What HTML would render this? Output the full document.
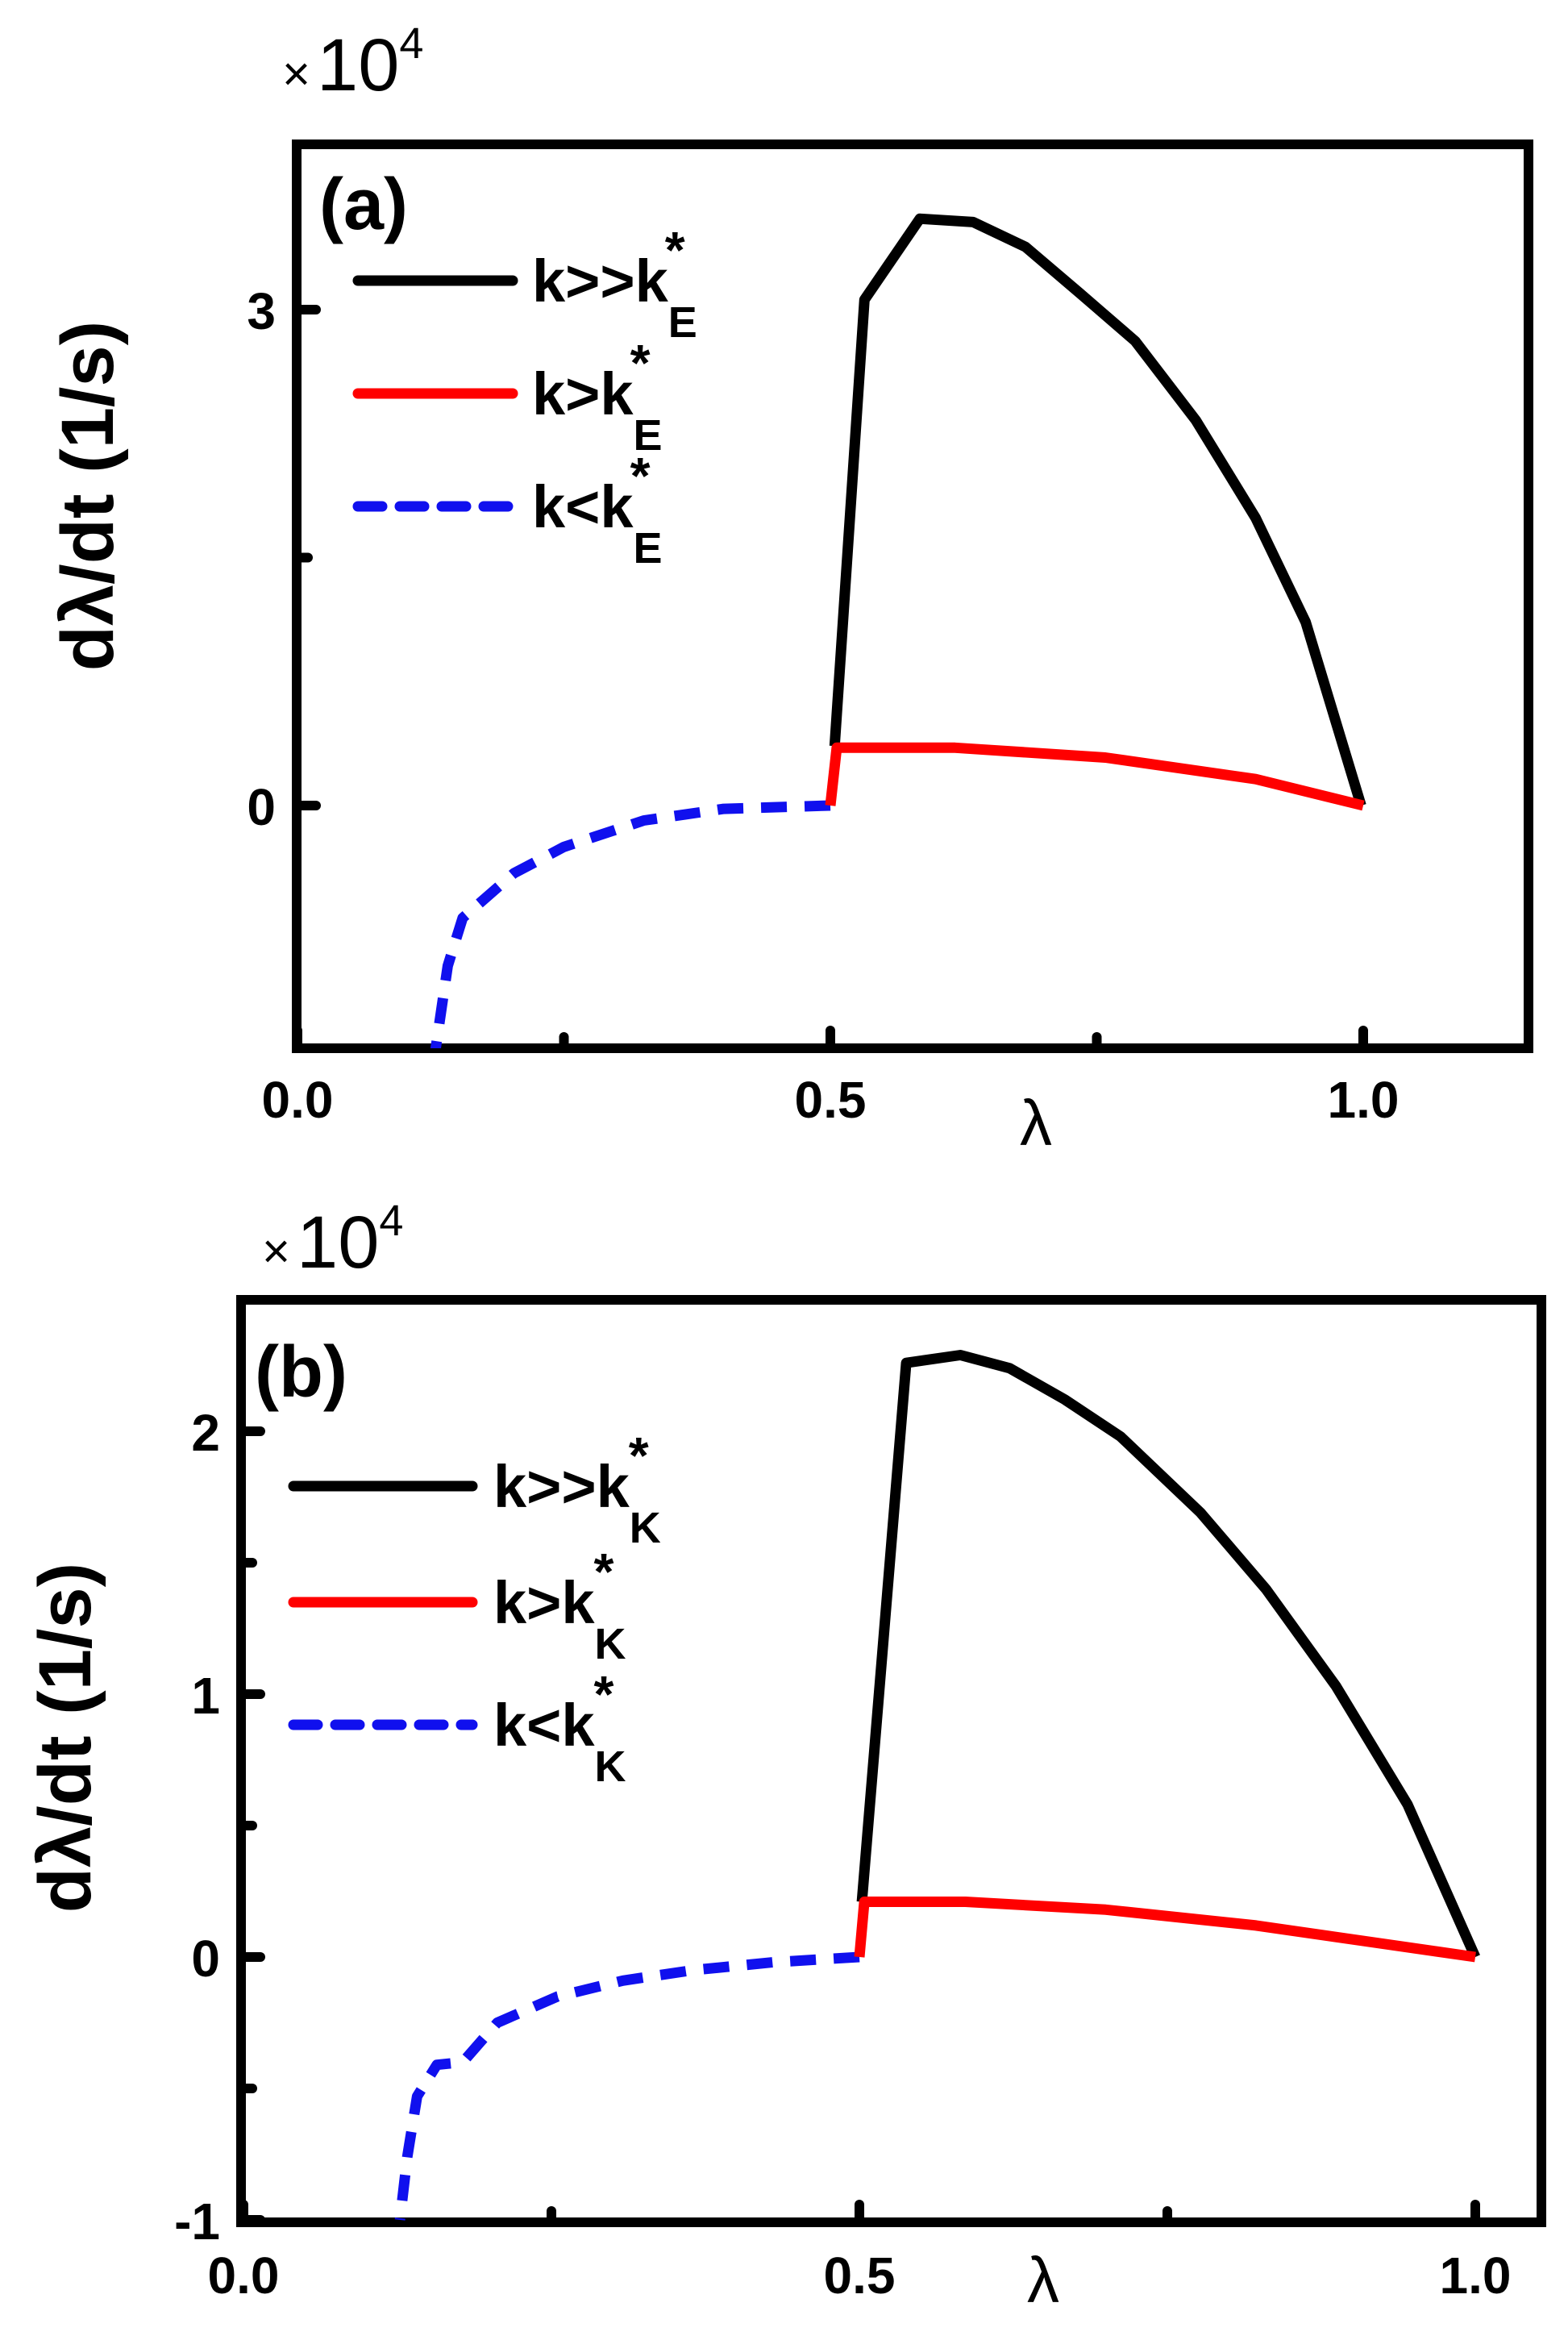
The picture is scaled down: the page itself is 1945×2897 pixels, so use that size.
<!DOCTYPE html>
<html><head><meta charset="utf-8"><style>
html,body{margin:0;padding:0;background:#fff;}
svg{display:block;}
text{font-family:"Liberation Sans",sans-serif;}
</style></head><body>
<svg id="chart" width="1945" height="2897" viewBox="0 0 1945 2897" xmlns="http://www.w3.org/2000/svg"></svg>
<script>
// Panel (a) data
const aBlackX = [0.504,0.532,0.584,0.634,0.683,0.734,0.786,0.843,0.899,0.946,0.998];
const aBlackY = [0.36,3.06,3.55,3.53,3.38,3.10,2.81,2.33,1.74,1.11,0];
const aRedX = [0.5,0.506,0.617,0.758,0.899,1.0];
const aRedY = [0,0.35,0.35,0.29,0.16,0];
const aBlueX = [0.5,0.40,0.325,0.25,0.203,0.155,0.141,0.129];
const aBlueY = [0,-0.02,-0.09,-0.25,-0.41,-0.68,-0.97,-1.5];
const aYTicks = [0,3];
const aYMinor = [1.5];
// Panel (b) data
const bBlackX = [0.502,0.538,0.582,0.622,0.667,0.712,0.777,0.830,0.887,0.945,1.0];
const bBlackY = [0.21,2.26,2.29,2.24,2.12,1.98,1.69,1.40,1.03,0.58,0];
const bRedX = [0.5,0.504,0.586,0.70,0.822,1.0];
const bRedY = [0,0.21,0.21,0.18,0.12,0];
const bBlueX = [0.5,0.43,0.365,0.308,0.255,0.206,0.178,0.157,0.141,0.133,0.127];
const bBlueY = [0,-0.02,-0.05,-0.09,-0.15,-0.25,-0.40,-0.41,-0.53,-0.76,-1.0];
const bYTicks = [-1,0,1,2];
const bYMinor = [-0.5,0.5,1.5];
const xTicks = [0.0,0.5,1.0];
const xTickLabels = ["0.0","0.5","1.0"];
const xMinor = [0.25,0.75];

const NS="http://www.w3.org/2000/svg";
const svg=document.getElementById('chart');
function mk(tag,attrs,parent){const e=document.createElementNS(NS,tag);for(const k in attrs)e.setAttribute(k,attrs[k]);(parent||svg).appendChild(e);return e;}

function panel(cfg){
  const g=mk('g',{});
  
  
  const sx=v=>cfg.x0+(v-0)*(cfg.x1-cfg.x0);
  const sy=v=>cfg.y0-(v)*cfg.yu;
  const fr=mk('rect',{x:cfg.L,y:cfg.T,width:cfg.R-cfg.L,height:cfg.B-cfg.T,fill:'none',stroke:'#000','stroke-width':12},g);
  
  
  const cp=mk('clipPath',{id:'clip'+cfg.tag},g);
  mk('rect',{x:cfg.L,y:cfg.T,width:cfg.R-cfg.L,height:cfg.B-cfg.T},cp);
  cfg.yTicks.forEach(v=>{
    const t=mk('line',{x1:cfg.L,x2:cfg.L+24,y1:sy(v),y2:sy(v),stroke:'#000','stroke-width':12,'stroke-linecap':'round'},g);
    
    
    const l=mk('text',{x:cfg.L-26,y:sy(v)+24,'font-size':64,'font-weight':'bold','text-anchor':'end'},g);
    l.textContent=String(v);
    
    
  });
  cfg.yMinor.forEach(v=>{
    const t=mk('line',{x1:cfg.L,x2:cfg.L+14,y1:sy(v),y2:sy(v),stroke:'#000','stroke-width':12,'stroke-linecap':'round'},g);
    
    
  });
  xTicks.forEach((v,i)=>{
    const t=mk('line',{x1:sx(v),x2:sx(v),y1:cfg.B,y2:cfg.B-22,stroke:'#000','stroke-width':12,'stroke-linecap':'round'},g);
    
    
    const l=mk('text',{x:sx(v),y:cfg.B+cfg.xlabOff,'font-size':64,'font-weight':'bold','text-anchor':'middle'},g);
    l.textContent=xTickLabels[i];
    
    
  });
  xMinor.forEach(v=>{
    const t=mk('line',{x1:sx(v),x2:sx(v),y1:cfg.B,y2:cfg.B-14,stroke:'#000','stroke-width':12,'stroke-linecap':'round'},g);
    
    
  });
  const series=[
    {X:cfg.blueX,Y:cfg.blueY,c:'#1010ee',dash:'32 22',name:'series-k-less'},
    {X:cfg.blackX,Y:cfg.blackY,c:'#000',dash:'',name:'series-k-much-greater'},
    {X:cfg.redX,Y:cfg.redY,c:'#ff0000',dash:'',name:'series-k-greater'}
  ];
  series.forEach(s=>{
    const d=s.X.map((x,i)=>(i?'L':'M')+sx(x).toFixed(1)+' '+sy(s.Y[i]).toFixed(1)).join(' ');
    const p=mk('path',{d:d,fill:'none',stroke:s.c,'stroke-width':13,'stroke-dasharray':s.dash,'stroke-linejoin':'round','clip-path':'url(#clip'+cfg.tag+')'},g);
    
    
  });
  const m=mk('text',{x:cfg.mx,y:cfg.my,'font-size':92},g);
  const m1=mk('tspan',{'font-size':60},m); m1.textContent='×';
  const m2=mk('tspan',{dx:8},m); m2.textContent='10';
  const m3=mk('tspan',{dy:-40,'font-size':54},m); m3.textContent='4';
  
  
  const pl=mk('text',{x:cfg.plx,y:cfg.ply,'font-size':90,'font-weight':'bold'},g);
  pl.textContent='('+cfg.tag+')';
  
  
  const yt=mk('text',{x:0,y:0,'font-size':92,'font-weight':'bold','text-anchor':'middle','xml:space':'preserve',transform:'translate('+cfg.ytx+','+cfg.yty+') rotate(-90)'},g);
  yt.textContent='dλ/dt  (1/s)';
  
  
  const xt=mk('text',{x:cfg.xtx,y:cfg.xty,'font-size':80,'text-anchor':'middle'},g);
  xt.textContent='λ';
  
  
  const leg=[['#000','','k>>k'],['#ff0000','','k>k'],['#1010ee','30 22','k<k']];
  const lnames=['legend-entry-k-much-greater','legend-entry-k-greater','legend-entry-k-less'];
  leg.forEach((e,i)=>{
    const y=cfg.legY[i];
    const lg=mk('g',{},g);
    
    
    mk('line',{x1:cfg.legX1,x2:cfg.legX2,y1:y,y2:y,stroke:e[0],'stroke-width':13,'stroke-dasharray':e[1],'stroke-linecap':'round'},lg);
    const t=mk('text',{x:cfg.legTX,y:y+26,'font-size':74,'font-weight':'bold'},lg);
    const a=mk('tspan',{},t); a.textContent=e[2];
    const b=mk('tspan',{dy:44,'font-size':54},t); b.textContent=cfg.sub;
    const c=mk('tspan',{dx:-40,dy:-86,'font-size':64},t); c.textContent='*';
  });
}

panel({tag:'a',L:368,R:1896,T:179,B:1300,x0:369,x1:1691,y0:999,yu:205,
  yTicks:aYTicks,yMinor:aYMinor,blackX:aBlackX,blackY:aBlackY,redX:aRedX,redY:aRedY,blueX:aBlueX,blueY:aBlueY,
  xlabOff:86,mx:350,my:112,plx:396,ply:284,ytx:140,yty:615,xtx:1285,xty:1420,
  legX1:444,legX2:636,legY:[348,488,628],legTX:660,sub:'E'});
panel({tag:'b',L:299,R:1912,T:1612,B:2756,x0:302,x1:1830,y0:2427,yu:326,
  yTicks:bYTicks,yMinor:bYMinor,blackX:bBlackX,blackY:bBlackY,redX:bRedX,redY:bRedY,blueX:bBlueX,blueY:bBlueY,
  xlabOff:88,mx:325,my:1572,plx:316,ply:1732,ytx:112,yty:2155,xtx:1294,xty:2855,
  legX1:364,legX2:586,legY:[1843,1987,2139],legTX:612,sub:'K'});
</script>
</body></html>
